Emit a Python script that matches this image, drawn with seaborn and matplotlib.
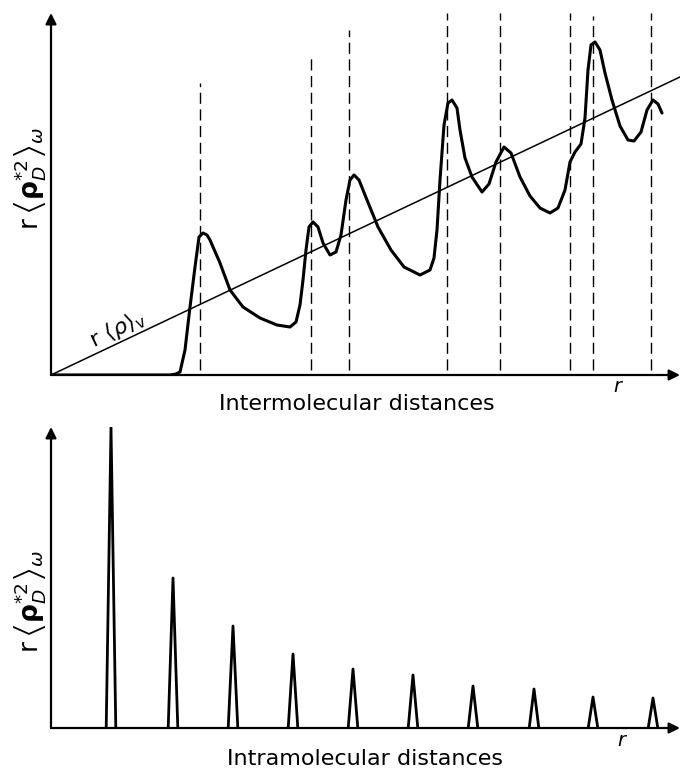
import numpy as np
import pandas as pd
import matplotlib
matplotlib.use("Agg")
import matplotlib.pyplot as plt
import seaborn as sns

# ---------------- data (arbitrary units) ----------------
# intermolecular curve r<rho_D*2>_w
curve_r = [0, 119, 125, 129, 134, 139, 144, 148, 152, 156, 159, 169, 179, 192, 209, 226, 239,
           245, 249, 252, 255, 258, 262, 267, 272, 279, 285, 290, 295, 299, 303, 308, 314, 327,
           340, 353, 369, 379, 383, 386, 389, 393, 397, 401, 406, 409, 414, 421, 431, 438, 445,
           453, 460, 469, 479, 489, 499, 507, 514, 519, 524, 530, 534, 537, 540, 544, 549, 554,
           561, 569, 577, 583, 590, 596, 602, 607, 611]
curve_y = [0, 0, 1, 3, 25, 68, 108, 138, 142, 140, 135, 112, 85, 68, 57, 50, 48,
           53, 70, 95, 125, 148, 153, 148, 132, 120, 123, 140, 175, 195, 200, 195, 180, 148,
           125, 108, 100, 105, 117, 145, 195, 250, 272, 275, 267, 245, 217, 198, 183, 191, 213,
           228, 222, 198, 179, 167, 162, 167, 185, 213, 223, 231, 257, 305, 330, 333, 325, 302,
           275, 249, 235, 234, 243, 265, 275, 271, 262]
# mean density line r<rho>_v
rho_v = 0.4738
line_r = [0, 629]
# dashed reference distances
dash_r = [149, 260, 298, 396, 449, 519, 542, 600]
dash_top = [292, 320, 345, 362, 362, 362, 359, 362]
# intramolecular spikes
spike_r = [60, 122, 182, 242, 302, 362, 422, 483, 542, 602]
spike_h = [301, 150, 102, 74, 59, 53, 42, 39, 31, 30]

# ---------------- figure ----------------
sns.set_style("white")
plt.rcParams['font.family'] = ['DejaVu Sans']
plt.rcParams['text.color'] = 'black'
fig = plt.figure(figsize=(6.8, 7.7), dpi=100)
W, H = 680.0, 770.0
ax1 = fig.add_axes([51 / W, (H - 375) / H, 629 / W, 362 / H])
ax2 = fig.add_axes([51 / W, (H - 728) / H, 629 / W, 301 / H])
for ax, ymax in ((ax1, 362), (ax2, 301)):
    ax.set_xlim(0, 629)
    ax.set_ylim(0, ymax)
    ax.set_axis_off()
    ax.annotate('', xy=(629, 0), xytext=(0, 0), annotation_clip=False,
                arrowprops=dict(arrowstyle='-|>', lw=1.6, color='k', mutation_scale=16,
                                shrinkA=0, shrinkB=0))
    ax.annotate('', xy=(0, ymax), xytext=(0, 0), annotation_clip=False,
                arrowprops=dict(arrowstyle='-|>', lw=1.6, color='k', mutation_scale=16,
                                shrinkA=0, shrinkB=0))

# top panel
df_line = pd.DataFrame({'r': line_r, 'y': [rho_v * v for v in line_r]})
sns.lineplot(data=df_line, x='r', y='y', ax=ax1, color='k', lw=1.1)
df_curve = pd.DataFrame({'r': curve_r, 'y': curve_y})
sns.lineplot(data=df_curve, x='r', y='y', ax=ax1, color='k', lw=2.2, sort=False,
             estimator=None, solid_joinstyle='round', solid_capstyle='round')
ax1.vlines(dash_r, 5, dash_top, colors='k', lw=1.0, linestyles=[(0, (8, 4))])
ax1.text(66, 46, r'$\mathrm{r}\ \langle\rho\rangle_{\mathrm{v}}$', fontsize=16, rotation=25.4,
         ha='center', va='center', color='k')

# bottom panel
rows = []
for i, (r0, h) in enumerate(zip(spike_r, spike_h)):
    for dx, yy in ((-4.8, 0), (0, h), (4.8, 0)):
        rows.append({'r': r0 + dx, 'y': yy, 'peak': i})
df_sp = pd.DataFrame(rows)
sns.lineplot(data=df_sp, x='r', y='y', units='peak', estimator=None, sort=False,
             ax=ax2, color='k', lw=2.0)

# texts
ylab = r'$\mathrm{r}\,\left\langle\mathbf{\rho}^{*2}_{D}\right\rangle_{\omega}$'
fig.text(30 / W, 1 - 178 / H, ylab, rotation=90, fontsize=19, ha='center', va='center', color='k')
fig.text(30 / W, 1 - 601 / H, ylab, rotation=90, fontsize=19, ha='center', va='center', color='k')
fig.text(357 / W, 1 - 404 / H, 'Intermolecular distances', fontsize=16, ha='center', va='center', color='k')
fig.text(365 / W, 1 - 759 / H, 'Intramolecular distances', fontsize=16, ha='center', va='center', color='k')
fig.text(617 / W, 1 - 387 / H, 'r', fontsize=14, style='italic', ha='center', va='center', color='k')
fig.text(621 / W, 1 - 740 / H, 'r', fontsize=14, style='italic', ha='center', va='center', color='k')

fig.savefig('out.png', dpi=100)
